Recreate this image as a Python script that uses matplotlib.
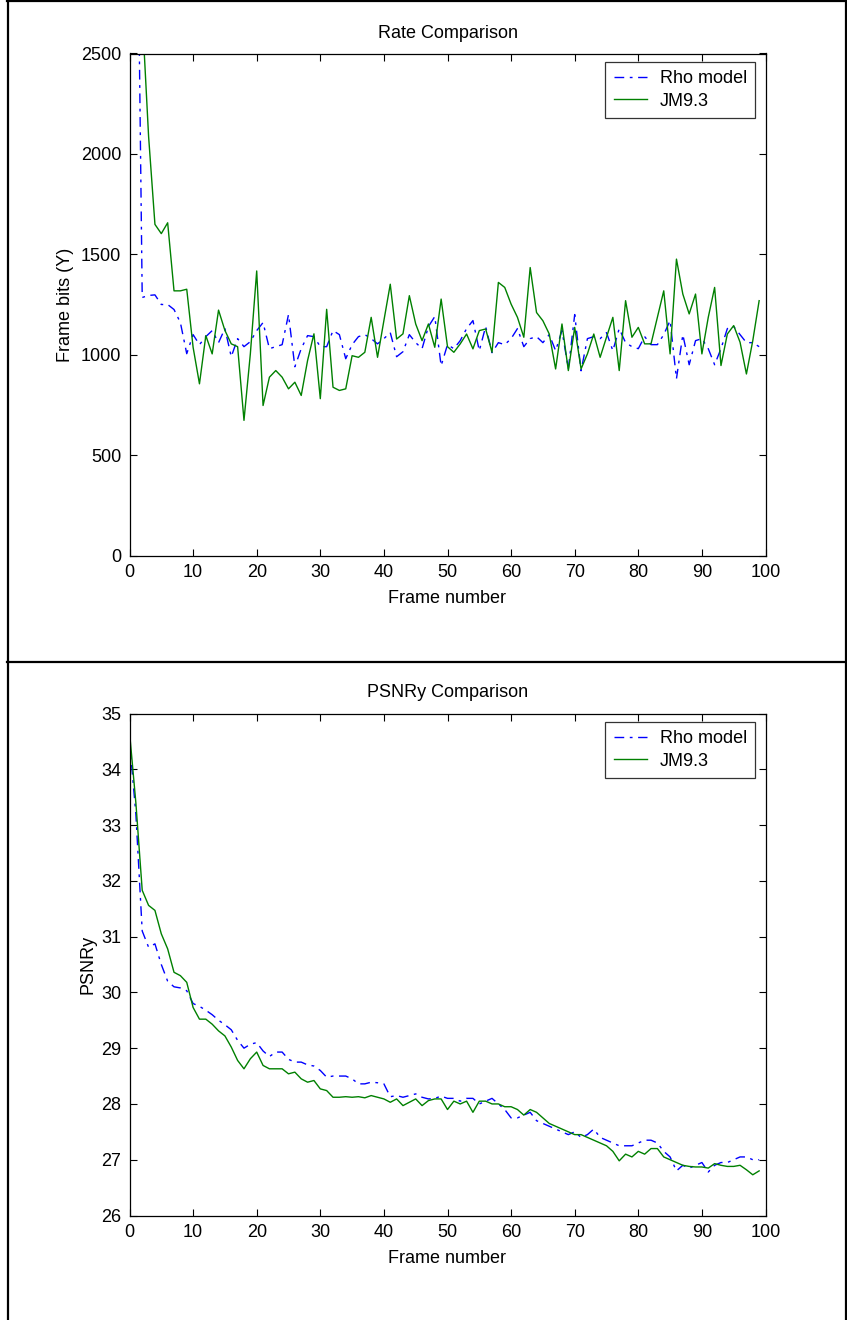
import numpy as np
import matplotlib
matplotlib.use("Agg")
import matplotlib.pyplot as plt
from matplotlib.lines import Line2D

plt.rcParams['font.family'] = ['Liberation Sans', 'DejaVu Sans']
FS = 13

frames = np.arange(100)

# Frame bits per frame (first frames go off the top of the plot)
rate_rho = [9000, 4000, 1285, 1295, 1298, 1250, 1250, 1225, 1160, 1005,
            1100, 1050, 1090, 1120, 1060, 1130, 990, 1080, 1040, 1065,
            1120, 1160, 1030, 1040, 1050, 1200, 940, 1030, 1095, 1090,
            1040, 1040, 1120, 1100, 980, 1050, 1090, 1100, 1080, 1054,
            1080, 1110, 990, 1015, 1100, 1060, 1030, 1140, 1190, 945,
            1050, 1030, 1070, 1130, 1170, 1020, 1140, 1010, 1060, 1050,
            1080, 1130, 1040, 1080, 1090, 1060, 1100, 1020, 1120, 930,
            1200, 920, 1080, 1090, 1080, 1110, 1020, 1130, 1060, 1040,
            1030, 1090, 1050, 1050, 1100, 1170, 880, 1100, 950, 1070,
            1080, 1030, 950, 1030, 1130, 1140, 1100, 1060, 1060, 1040]
rate_jm = [9000, 4500, 2700, 2088, 1649, 1603, 1657, 1318, 1318, 1326,
           1037, 855, 1095, 1004, 1222, 1121, 1054, 1040, 673, 1004,
           1417, 747, 888, 921, 888, 830, 863, 797, 971, 1104,
           781, 1226, 838, 822, 830, 995, 987, 1012, 1186, 987,
           1170, 1351, 1078, 1104, 1294, 1153, 1070, 1153, 1037, 1277,
           1040, 1012, 1054, 1103, 1029, 1120, 1128, 1012, 1360, 1335,
           1252, 1186, 1087, 1434, 1210, 1169, 1103, 929, 1153, 921,
           1136, 929, 1004, 1103, 987, 1087, 1186, 921, 1269, 1087,
           1136, 1054, 1054, 1186, 1318, 1004, 1476, 1302, 1203, 1302,
           1004, 1186, 1335, 946, 1103, 1145, 1062, 904, 1070, 1269]

# Luma PSNR per frame
psnr_rho = [34.5, 33.2, 31.1, 30.81, 30.87, 30.5, 30.2, 30.1, 30.08, 30.03,
            29.8, 29.75, 29.68, 29.6, 29.5, 29.42, 29.33, 29.14, 29.0, 29.07,
            29.1, 28.95, 28.85, 28.93, 28.93, 28.8, 28.75, 28.75, 28.7, 28.68,
            28.6, 28.48, 28.5, 28.5, 28.5, 28.45, 28.36, 28.36, 28.39, 28.38,
            28.36, 28.13, 28.15, 28.12, 28.15, 28.18, 28.12, 28.09, 28.1, 28.14,
            28.1, 28.1, 28.05, 28.1, 28.1, 28.0, 28.05, 28.1, 28.0, 27.9,
            27.75, 27.75, 27.8, 27.85, 27.7, 27.65, 27.6, 27.55, 27.5, 27.45,
            27.5, 27.4, 27.45, 27.55, 27.4, 27.35, 27.3, 27.25, 27.25, 27.25,
            27.3, 27.35, 27.35, 27.3, 27.15, 27.05, 26.8, 26.9, 26.85, 26.9,
            26.95, 26.78, 26.9, 26.95, 26.95, 27.0, 27.05, 27.05, 27.0, 27.0]
psnr_jm = [34.67, 33.4, 31.83, 31.56, 31.47, 31.05, 30.78, 30.36, 30.3, 30.18,
           29.73, 29.52, 29.52, 29.43, 29.31, 29.22, 29.02, 28.78, 28.63, 28.81,
           28.93, 28.69, 28.63, 28.63, 28.63, 28.54, 28.57, 28.45, 28.39, 28.42,
           28.27, 28.24, 28.12, 28.12, 28.13, 28.12, 28.13, 28.11, 28.15, 28.12,
           28.09, 28.03, 28.09, 27.97, 28.03, 28.09, 27.97, 28.06, 28.09, 28.09,
           27.9, 28.05, 28.0, 28.05, 27.85, 28.05, 28.05, 28.0, 28.0, 27.95,
           27.95, 27.9, 27.8, 27.9, 27.85, 27.75, 27.65, 27.6, 27.55, 27.5,
           27.45, 27.45, 27.4, 27.35, 27.3, 27.25, 27.15, 26.98, 27.1, 27.05,
           27.15, 27.1, 27.2, 27.2, 27.05, 27.0, 26.95, 26.9, 26.88, 26.87,
           26.87, 26.85, 26.93, 26.9, 26.88, 26.88, 26.9, 26.82, 26.73, 26.8]

series_labels = ['Rho model', 'JM9.3']
xticks = np.arange(0, 101, 10)

W, H = 847, 1320
fig = plt.figure(figsize=(W / 100, H / 100), dpi=100)


def px_axes(x0, y0, x1, y1):
    # axes box given in pixel coords from the top-left corner
    return fig.add_axes([x0 / W, 1 - y1 / H, (x1 - x0) / W, (y1 - y0) / H])


def draw(ax, rho, jm, title, ylabel, ylim, yticks, ylab_x):
    ax.plot(frames, rho, color=(0, 0, 1), lw=1.0, linestyle=(0, (7, 4, 2, 4)),
            label=series_labels[0])
    ax.plot(frames, jm, color=(0, 0.5, 0), lw=1.0, label=series_labels[1])
    ax.set_xlim(0, 100)
    ax.set_ylim(*ylim)
    ax.set_xticks(xticks)
    ax.set_yticks(yticks)

    ax.tick_params(direction='in', length=5, width=0.8, top=True, right=True,
                   labelsize=FS, pad=6, colors='black')
    for s in ax.spines.values():
        s.set_linewidth(0.9)

    # axes box is 636 x 502 px
    ax.set_title(title, fontsize=FS, y=1 + 20.5 / 502, va='center', pad=0)
    ax.set_xlabel('Frame number', fontsize=FS)
    ax.xaxis.set_label_coords(0.5, -43 / 502)
    ax.xaxis.label.set_va('center')
    ax.set_ylabel(ylabel, fontsize=FS)
    ax.yaxis.set_label_coords((ylab_x - 129.5) / 636, 0.5)
    ax.yaxis.label.set_va('center')

    leg = ax.legend(loc='upper right', bbox_to_anchor=(1 - 10.5 / 636, 1 - 8.5 / 502),
                    borderaxespad=0, frameon=True, fancybox=False, fontsize=FS,
                    handlelength=1.85, handletextpad=0.7, borderpad=0.45,
                    labelspacing=0.3)
    leg.get_frame().set_edgecolor('black')
    leg.get_frame().set_linewidth(0.9)


ax1 = px_axes(129.5, 53.5, 765.5, 555.5)
draw(ax1, rate_rho, rate_jm, 'Rate Comparison', 'Frame bits (Y)',
     (0, 2500), np.arange(0, 2501, 500), 65)

ax2 = px_axes(129.5, 713.5, 765.5, 1215.5)
draw(ax2, psnr_rho, psnr_jm, 'PSNRy Comparison', 'PSNRy',
     (26, 35), np.arange(26, 36, 1), 88)


# table cell borders around the two panels
def hline(y, x0, x1):
    fig.add_artist(Line2D([x0 / W, x1 / W], [1 - y / H, 1 - y / H],
                          color='black', lw=1.6, transform=fig.transFigure))


def vline(x, y0, y1):
    fig.add_artist(Line2D([x / W, x / W], [1 - y0 / H, 1 - y1 / H],
                          color='black', lw=1.6, transform=fig.transFigure))


hline(1, 7, 847)
hline(662, 7, 847)
vline(7.5, 0, 1320)
vline(845.5, 0, 1320)

fig.savefig('out.png', dpi=100)
